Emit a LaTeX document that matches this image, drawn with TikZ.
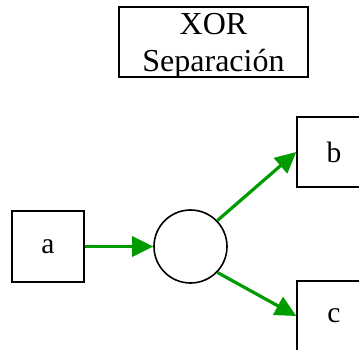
\documentclass[tikz,border=0pt]{standalone}
\usepackage{fontspec}
\setmainfont{Liberation Serif}
\newfontfamily\timesfont{Liberation Serif}
\usetikzlibrary{arrows.meta}
\definecolor{edgegreen}{RGB}{0,155,0}
\tikzset{
  box/.style={draw=black, line width=1.4pt, rectangle, minimum width=72pt, minimum height=71pt, inner sep=0pt, font=\timesfont\fontsize{29.5}{34}\selectfont},
  xorcirc/.style={draw=black, line width=1.6pt, circle, minimum size=73pt, inner sep=0pt},
  titlebox/.style={draw=black, line width=1.4pt, rectangle, minimum width=189pt, minimum height=70pt, inner sep=0pt},
  titletext/.style={align=center, inner sep=0pt, font=\timesfont\fontsize{32}{37}\selectfont},
  flow/.style={draw=edgegreen, line width=3.2pt, -{Triangle[length=21pt,width=20pt]}},
}
\begin{document}
\begin{tikzpicture}[x=1pt,y=-1pt]
\useasboundingbox (0,0) rectangle (359,349);
\clip (0,0) rectangle (359,349);
\node[titlebox] (title) at (213.5,42) {};
\node[titletext] (tt) at (213.5,46) {XOR\\Separación};
\node[box] (a) at (48,246.5) {a};
\node[xorcirc] (x) at (190.5,246.5) {};
\node[box, minimum width=74pt, minimum height=70pt] (b) at (334,152) {b};
\node[box, minimum width=74pt, minimum height=70pt] (c) at (334,316) {c};
\draw[flow] (a.east) -- (x.west);
\draw[flow] (x.44) -- (b.west);
\draw[flow] (x.-44) -- (c.west);
\end{tikzpicture}
\end{document}
